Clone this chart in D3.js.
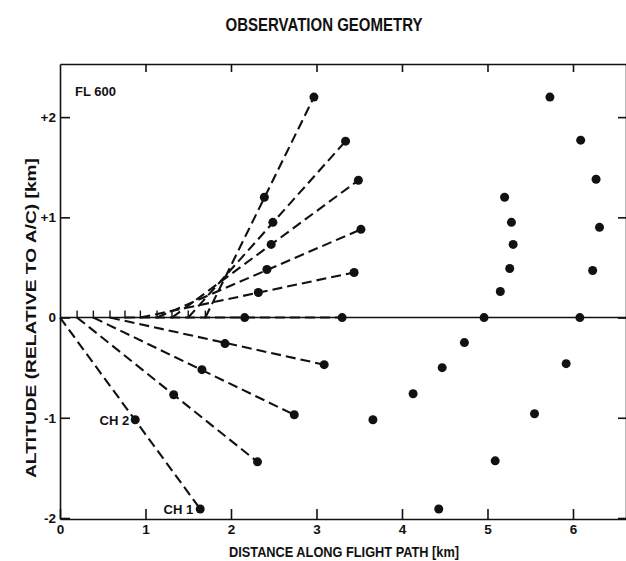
<!DOCTYPE html>
<html>
<head>
<meta charset="utf-8">
<script src="https://cdn.jsdelivr.net/npm/d3@7/dist/d3.min.js"></script>
<style>
  body { margin: 0; background: #fff; }
  svg text { font-family: Arial, "Liberation Sans", sans-serif; font-weight: bold; fill: #111; }
</style>
</head>
<body>
<div id="chart"></div>
<script>
// line of sight data, km (one entry per sight line, top to bottom)
var originX = [1.70, 1.50, 1.31, 1.135, 0.94, 0.76, 0.585, 0.39, 0.20, 0];
var ch2X = [2.39, 2.49, 2.47, 2.42, 2.32, 2.16, 1.93, 1.66, 1.33, 0.88];
var ch2Y = [1.20, 0.95, 0.73, 0.48, 0.25, 0, -0.26, -0.52, -0.77, -1.02];
var ch1X = [2.97, 3.34, 3.49, 3.52, 3.44, 3.30, 3.09, 2.74, 2.31, 1.64];
var ch1Y = [2.20, 1.76, 1.37, 0.88, 0.45, 0, -0.47, -0.97, -1.44, -1.91];

// later positions, no sight lines drawn
var ch2LaterX = [5.20, 5.28, 5.30, 5.26, 5.15, 4.96, 4.73, 4.47, 4.13, 3.66];
var ch2LaterY = [1.20, 0.95, 0.73, 0.49, 0.26, 0, -0.25, -0.50, -0.76, -1.02];
var ch1LaterX = [5.73, 6.09, 6.27, 6.31, 6.23, 6.08, 5.92, 5.55, 5.09, 4.43];
var ch1LaterY = [2.20, 1.77, 1.38, 0.90, 0.47, 0, -0.46, -0.96, -1.43, -1.91];

var xTicks = [0, 1, 2, 3, 4, 5, 6];
var yTicks = [2, 1, 0, -1, -2];

var margin = {top: 64, right: 0, bottom: 42, left: 60},
    width = 626 - margin.left - margin.right,
    height = 561 - margin.top - margin.bottom;

var svg = d3.select("#chart")
  .append("svg")
    .attr("width", 626)
    .attr("height", 561)
  .append("g")
    .attr("transform", "translate(" + margin.left + "," + margin.top + ")");

var x = d3.scaleLinear().domain([0, 6.62]).range([0, width]);
var y = d3.scaleLinear().domain([-2.01, 2.53]).range([height, 0]);

// frame + axes
svg.append("g")
  .attr("transform", "translate(0," + height + ")")
  .call(d3.axisBottom(x).tickValues(xTicks).tickSizeInner(-10).tickSizeOuter(0).tickPadding(5)
    .tickFormat(function(d) { return d; }));
svg.append("g")
  .call(d3.axisLeft(y).tickValues(yTicks).tickSizeInner(-10).tickSizeOuter(0).tickPadding(4)
    .tickFormat(function(d) { return d > 0 ? "+" + d : d; }));
svg.append("g")
  .call(d3.axisTop(x).tickValues(xTicks.slice(1)).tickSizeInner(-8).tickSizeOuter(0).tickFormat(""));
svg.append("g")
  .attr("transform", "translate(" + width + ",0)")
  .call(d3.axisRight(y).tickValues(yTicks).tickSizeInner(-8).tickSizeOuter(0).tickFormat(""));

svg.selectAll(".domain, .tick line")
  .attr("stroke", "#111")
  .attr("stroke-width", 1.6);
svg.selectAll(".tick text")
  .style("font-size", "13.5px");

// flight path (altitude 0)
svg.append("line")
  .attr("x1", x(0)).attr("x2", width)
  .attr("y1", y(0)).attr("y2", y(0))
  .attr("stroke", "#111")
  .attr("stroke-width", 1.6);

// start marks on flight path
svg.selectAll(".start")
  .data(originX.filter(function(d) { return d > 0; }))
  .enter()
  .append("line")
    .attr("class", "start")
    .attr("x1", function(d) { return x(d); })
    .attr("x2", function(d) { return x(d); })
    .attr("y1", y(0) - 7)
    .attr("y2", y(0) + 1)
    .attr("stroke", "#111")
    .attr("stroke-width", 1.4);

// sight lines
svg.selectAll(".sight")
  .data(originX)
  .enter()
  .append("line")
    .attr("class", "sight")
    .attr("x1", function(d) { return x(d); })
    .attr("y1", y(0))
    .attr("x2", function(d, i) { return x(ch1X[i]); })
    .attr("y2", function(d, i) { return y(ch1Y[i]); })
    .attr("stroke", "#111")
    .attr("stroke-width", 2.1)
    .attr("stroke-dasharray", "10,5");

function dots(xs, ys) {
  svg.selectAll(null)
    .data(xs)
    .enter()
    .append("circle")
      .attr("cx", function(d) { return x(d); })
      .attr("cy", function(d, i) { return y(ys[i]); })
      .attr("r", 4.5)
      .attr("fill", "#111");
}
dots(ch2X, ch2Y);
dots(ch1X, ch1Y);
dots(ch2LaterX, ch2LaterY);
dots(ch1LaterX, ch1LaterY);

// labels
svg.append("text")
  .attr("x", x(ch2X[9]) - 6)
  .attr("y", y(ch2Y[9]) + 5)
  .attr("text-anchor", "end")
  .style("font-size", "13px")
  .text("CH 2");

svg.append("text")
  .attr("x", x(ch1X[9]) - 7)
  .attr("y", y(ch1Y[9]) + 5)
  .attr("text-anchor", "end")
  .style("font-size", "13px")
  .text("CH 1");

svg.append("text")
  .attr("x", 15)
  .attr("y", 32)
  .style("font-size", "13px")
  .text("FL 600");

d3.select("svg").append("text")
  .attr("x", 324)
  .attr("y", 31)
  .attr("text-anchor", "middle")
  .attr("textLength", 197)
  .attr("lengthAdjust", "spacingAndGlyphs")
  .style("font-size", "18px")
  .text("OBSERVATION GEOMETRY");

svg.append("text")
  .attr("x", 344 - margin.left)
  .attr("y", height + 38)
  .attr("text-anchor", "middle")
  .attr("textLength", 230)
  .attr("lengthAdjust", "spacingAndGlyphs")
  .style("font-size", "14px")
  .text("DISTANCE ALONG FLIGHT PATH [km]");

svg.append("text")
  .attr("transform", "rotate(-90)")
  .attr("x", 0 - (318 - margin.top))
  .attr("y", 0 - margin.left + 36)
  .attr("text-anchor", "middle")
  .attr("textLength", 320)
  .attr("lengthAdjust", "spacingAndGlyphs")
  .style("font-size", "15px")
  .text("ALTITUDE (RELATIVE TO A/C) [km]");
</script>
</body>
</html>
